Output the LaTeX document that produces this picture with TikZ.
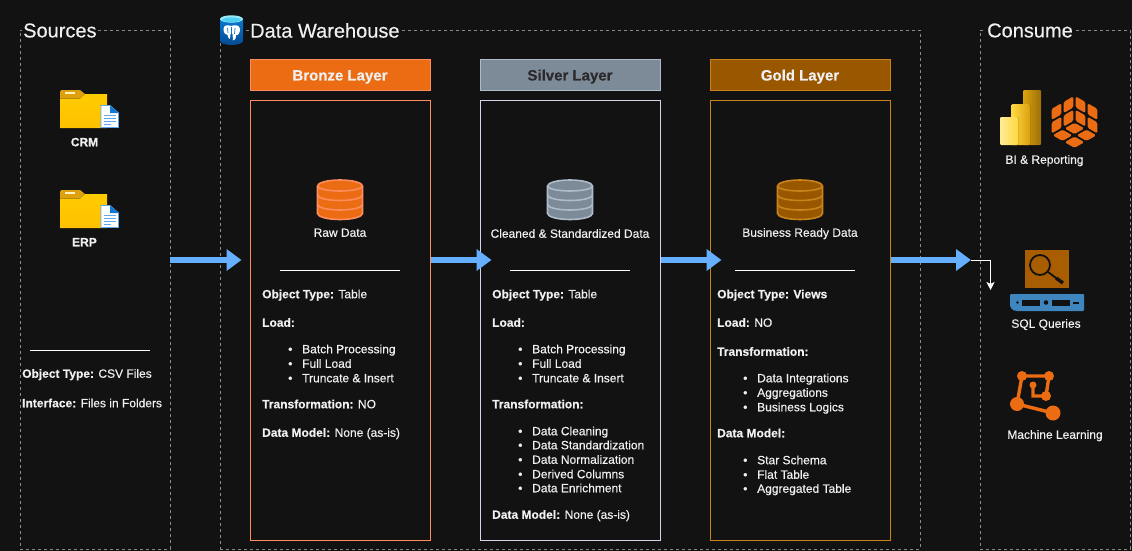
\documentclass[tikz,border=0pt]{standalone}
\usepackage{fontspec}
\setmainfont[FakeBold=0.35]{Liberation Sans}
\usetikzlibrary{arrows.meta,calc}
\definecolor{bgc}{HTML}{121212}
\definecolor{dashc}{HTML}{8A8A8A}
\definecolor{txt}{HTML}{F0F0F0}
\definecolor{brF}{HTML}{EB6C12}
\definecolor{brS}{HTML}{FF8C5C}
\definecolor{siF}{HTML}{7D8B99}
\definecolor{siS}{HTML}{AEBBCB}
\definecolor{siP}{HTML}{D9D0EE}
\definecolor{goF}{HTML}{995700}
\definecolor{goS}{HTML}{C8841A}
\definecolor{goP}{HTML}{C8841A}
\definecolor{flow}{HTML}{66AFFF}
\definecolor{yel}{HTML}{FFCC00}
\definecolor{yelD}{HTML}{DDA00E}
\definecolor{srv}{HTML}{3F86BF}
\definecolor{docB}{HTML}{0F78D4}
\definecolor{docL}{HTML}{5FA8F0}
\definecolor{pgT}{HTML}{0A78D0}
\definecolor{pgB}{HTML}{054A92}
\definecolor{pgC}{HTML}{4FD0EE}
\definecolor{pgD}{HTML}{9BE8F5}
\tikzset{
  x=1pt,y=-1pt,
  zone/.style={draw=dashc,dash pattern=on 3pt off 3pt,line width=.8pt,inner sep=0pt},
  panel/.style={draw,fill=bgc,line width=1pt,inner sep=0pt,minimum width=180pt,minimum height=440pt},
  head/.style={draw,line width=1pt,inner sep=0pt,minimum width=180pt,minimum height=30pt,text height=11pt,text depth=0pt,font=\fontsize{15}{17}\selectfont\bfseries},
  title/.style={fill=bgc,text=txt,inner xsep=1pt,inner ysep=1pt,anchor=west,font=\fontsize{20}{22}\selectfont},
  lbl/.style={text=txt,inner sep=0pt,anchor=west,text height=11pt,text depth=2.5pt,font=\fontsize{12}{14}\selectfont},
  clbl/.style={text=txt,inner sep=0pt,text height=11pt,text depth=2.5pt,font=\fontsize{12}{14}\selectfont},
  rule/.style={draw=white,line width=.9pt},
  flowarrow/.style={draw=flow,line width=6.5pt,-{Triangle[length=15pt,width=21pt]}},
  elbow/.style={draw=white,line width=.9pt,-{Stealth[length=8pt,width=8pt,inset=2pt]}}
}
\newcommand{\objline}[4]{\node[lbl] (#1) at (#2,#3) {#4};}
\newcommand{\bul}[4]{\node[lbl] (#1) at (#2,#3) {\makebox[14pt][l]{•}#4};}
\newcommand{\dbicon}[4]{% x center, top, fill, stroke
  \begin{scope}[shift={(#1,#2)}]
    \draw[fill=#3,draw=#4,line width=1.6pt] (-22.5,6) -- (-22.5,33.5) arc[start angle=180,end angle=0,x radius=22.5,y radius=6] -- (22.5,6) arc[start angle=0,end angle=-180,x radius=22.5,y radius=6] -- cycle;
    \draw[draw=#4,line width=1.6pt] (-22.5,6) arc[start angle=180,end angle=0,x radius=22.5,y radius=5];
    \draw[draw=#4,line width=1.6pt] (-22.5,15) arc[start angle=180,end angle=0,x radius=22.5,y radius=5.5];
    \draw[draw=#4,line width=1.6pt] (-22.5,24.5) arc[start angle=180,end angle=0,x radius=22.5,y radius=5.5];
  \end{scope}}
\newcommand{\foldericon}[2]{%
  \begin{scope}[shift={(#1,#2)}]
    \fill[yelD] (0,2) -- (1,0) -- (20,0) -- (25,4) -- (25,8.5) -- (0,8.5) -- cycle;
    \fill[yelD] (0,8) rectangle (20,8.5);
    \fill[white!75!yel] (4.5,2.2) rectangle (15,3.8);
    \fill[top color=yel,bottom color=yel!85!orange] (0,8.5) -- (20,8.5) -- (25,4) -- (47,4) -- (47,38) -- (0,38) -- cycle;
    \draw[fill=white,draw=docL,line width=.8pt] (41,15.5) -- (50,15.5) -- (58.5,23) -- (58.5,37.5) -- (41,37.5) -- cycle;
    \fill[docB] (50,15.5) -- (58.5,23) -- (50,23) -- cycle;
    \foreach \yy in {25,28,31}{\fill[docL] (43.5,\yy) rectangle (56,\yy+1.4);}
    \fill[docL] (43.5,34) rectangle (51,35.4);
  \end{scope}}
\newcommand{\facecells}{%
  \foreach \i in {0,.5}{\foreach \j in {0,.5}{
    \fill[brF,rounded corners=1.6pt] (\i+.045,\j+.045) -- (\i+.455,\j+.045) -- (\i+.455,\j+.455) -- (\i+.045,\j+.455) -- cycle;
  }}}
\begin{document}
\begin{tikzpicture}
\useasboundingbox (0,0) rectangle (1132,551);
\fill[bgc] (0,0) rectangle (1132,551);
% zones
\node[zone,minimum width=150pt,minimum height=519pt] (sources) at (95,289.5) {};
\node[zone,minimum width=700pt,minimum height=519pt] (warehouse) at (570,289.5) {};
\node[zone,minimum width=150pt,minimum height=519pt] (consume) at (1055,289.5) {};
\node[title] (tsources) at (22,30.5) {Sources};
\node[title] (twarehouse) at (249,30.5) {Data Warehouse};
\node[title] (tconsume) at (986,30.5) {Consume};
% panels
\node[panel,draw=brS] (bronze) at (340,320) {};
\node[panel,draw=siP] (silver) at (570,320) {};
\node[panel,draw=goP] (gold) at (800,320) {};
\node[head,fill=brF,draw=brS,text=txt] (hbronze) at (340,75) {Bronze Layer};
\node[head,fill=siF,draw=siS,text=bgc!90!white] (hsilver) at (570,75) {Silver Layer};
\node[head,fill=goF,draw=goS,text=txt] (hgold) at (800,75) {Gold Layer};
% db icons
\dbicon{340}{180}{brF}{brS}
\dbicon{570}{180}{siF}{siS}
\dbicon{800}{180}{goF}{goS}
\node[clbl] (lraw) at (340,232.5) {Raw Data};
\node[clbl] (lclean) at (570,233.5) {Cleaned \& Standardized Data};
\node[clbl] (lbiz) at (800,232.5) {Business Ready Data};
% rules
\coordinate (r0a) at (30,350.5); \coordinate (r0b) at (150,350.5);
\coordinate (r1a) at (280,270.5); \coordinate (r1b) at (400,270.5);
\coordinate (r2a) at (510,270.5); \coordinate (r2b) at (630,270.5);
\coordinate (r3a) at (735,270.5); \coordinate (r3b) at (855,270.5);
\draw[rule] (r0a) -- (r0b);
\draw[rule] (r1a) -- (r1b);
\draw[rule] (r2a) -- (r2b);
\draw[rule] (r3a) -- (r3b);
% sources
\foldericon{60}{90}
\foldericon{60}{190}
\node[clbl,font=\fontsize{12}{14}\selectfont\bfseries] (lcrm) at (84.5,142) {CRM};
\node[clbl,font=\fontsize{12}{14}\selectfont\bfseries] (lerp) at (84.5,242) {ERP};
\objline{s1}{22}{373.5}{\textbf{Object Type:} CSV Files}
\objline{s2}{22}{403}{\textbf{Interface:} Files in Folders}
% bronze text
\objline{b1}{262}{294}{\textbf{Object Type:} Table}
\objline{b2}{262}{322.5}{\textbf{Load:}}
\bul{b3}{288}{349}{Batch Processing}
\bul{b4}{288}{363.5}{Full Load}
\bul{b5}{288}{378}{Truncate \& Insert}
\objline{b6}{262}{404}{\textbf{Transformation:} NO}
\objline{b7}{262}{432.5}{\textbf{Data Model:} None (as-is)}
% silver text
\objline{c1}{492}{294}{\textbf{Object Type:} Table}
\objline{c2}{492}{322.5}{\textbf{Load:}}
\bul{c3}{518}{349}{Batch Processing}
\bul{c4}{518}{363.5}{Full Load}
\bul{c5}{518}{378}{Truncate \& Insert}
\objline{c6}{492}{404}{\textbf{Transformation:}}
\bul{c7}{518}{431}{Data Cleaning}
\bul{c8}{518}{445}{Data Standardization}
\bul{c9}{518}{459.5}{Data Normalization}
\bul{c10}{518}{474}{Derived Columns}
\bul{c11}{518}{488}{Data Enrichment}
\objline{c12}{492}{514.5}{\textbf{Data Model:} None (as-is)}
% gold text
\objline{g1}{717}{294}{\textbf{Object Type: Views}}
\objline{g2}{717}{322.5}{\textbf{Load:} NO}
\objline{g3}{717}{351.5}{\textbf{Transformation:}}
\bul{g4}{743}{378}{Data Integrations}
\bul{g5}{743}{392.5}{Aggregations}
\bul{g6}{743}{407}{Business Logics}
\objline{g7}{717}{433}{\textbf{Data Model:}}
\bul{g8}{743}{460}{Star Schema}
\bul{g9}{743}{474.5}{Flat Table}
\bul{g10}{743}{488.5}{Aggregated Table}
% flows
\coordinate (rowy) at (0,260);
\coordinate (tip1) at (241.5,260);
\coordinate (tip2) at (491.5,260);
\coordinate (tip3) at (721.5,260);
\coordinate (tip4) at (971,260);
\coordinate (bend) at (990.5,260);
\coordinate (tip5) at (990.5,290);
\draw[flowarrow] (sources.east |- rowy) -- (tip1);
\draw[flowarrow] (bronze.east |- rowy) -- (tip2);
\draw[flowarrow] (silver.east |- rowy) -- (tip3);
\draw[flowarrow] (gold.east |- rowy) -- (tip4);
\draw[elbow] (tip4) -- (bend) -- (tip5);
% postgres icon
\begin{scope}[shift={(220,15)}]
  \fill[top color=pgT,bottom color=pgB] (0,4) -- (0,26) arc[start angle=180,end angle=0,x radius=11.5,y radius=4] -- (23,4) -- cycle;
  \fill[pgD] (11.5,4) ellipse[x radius=11.5,y radius=3.7];
  \fill[pgC] (11.5,4.8) ellipse[x radius=9.3,y radius=2.4];
  \fill[white] (3.5,14) .. controls (3.5,10) and (8,9.5) .. (11,11) .. controls (14,9.5) and (20,10) .. (20,14) .. controls (20,18) and (18,21) .. (16,20) .. controls (16,24) and (14.5,26) .. (13,25.5) -- (12.5,19) -- (10.5,19) -- (10,24) .. controls (9,24.5) and (8,22) .. (7.5,20) .. controls (5.5,20) and (3.5,18) .. (3.5,14) -- cycle;
  \draw[pgT,line width=.7pt] (11.5,12) -- (11.5,19) (7.5,13) -- (8,18) (15,13) -- (14.5,19);
\end{scope}
% BI
\begin{scope}[shift={(1000,90)}]
  \fill[rounded corners=1pt,left color=yelD!95!yel,right color=yelD!70!black] (23,0) rectangle (41,55);
  \fill[rounded corners=1pt,left color=yel!75!white,right color=yelD] (11.5,14) rectangle (30,55);
  \fill[rounded corners=1pt,left color=yel!40!white,right color=yel!75!white] (0,27) rectangle (18,55);
\end{scope}
% cube mark: three faces of a hexagon, each split in four
\begin{scope}[shift={(1074.5,121.5)},x={(-24pt,-13.8pt)},y={(24pt,-13.8pt)}]
  \facecells
\end{scope}
\begin{scope}[shift={(1074.5,121.5)},x={(-24pt,-13.8pt)},y={(0pt,27pt)}]
  \facecells
\end{scope}
\begin{scope}[shift={(1074.5,121.5)},x={(24pt,-13.8pt)},y={(0pt,27pt)}]
  \facecells
\end{scope}
\node[clbl] (lbi) at (1044.5,159.5) {BI \& Reporting};
% SQL
\fill[goF!85!orange] (1025,250) rectangle (1069,288);
\draw[bgc,line width=1.8pt] (1040,265) circle[radius=10];
\draw[bgc,line width=1.8pt] (1048,272) -- (1056,278);
\draw[bgc,line width=3.4pt] (1056,278) -- (1063,283);
\fill[rounded corners=1pt,srv] (1010,294) -- (1084,294) -- (1084,311) -- (1018,311) .. controls (1012,311) and (1010,307) .. (1010,304) -- cycle;
\fill[bgc] (1022,299.5) rectangle (1040,306);
\fill[bgc] (1052,299.5) rectangle (1070,306);
\fill[bgc] (1046,302.5) circle[radius=2.3];
\fill[bgc] (1017.5,302.5) circle[radius=1.3];
\fill[bgc] (1073,301.5) rectangle (1078.5,304);
\node[clbl] (lsql) at (1046,323.5) {SQL Queries};
% ML
\draw[brF,line width=3.4pt] (1022,376) -- (1049,376) -- (1046,396) -- (1033,396) -- (1033,385);
\draw[brF,line width=3.4pt] (1022,376) -- (1017,404) -- (1053,413);
\fill[brF] (1022,376) circle[radius=5];
\fill[brF] (1049,376) circle[radius=5];
\fill[brF] (1046,396) circle[radius=5];
\fill[brF] (1033,385) circle[radius=3.5];
\fill[brF] (1017,404) circle[radius=7];
\fill[brF] (1053,413) circle[radius=7.5];
\node[clbl] (lml) at (1055,434.5) {Machine Learning};
\end{tikzpicture}
\end{document}
